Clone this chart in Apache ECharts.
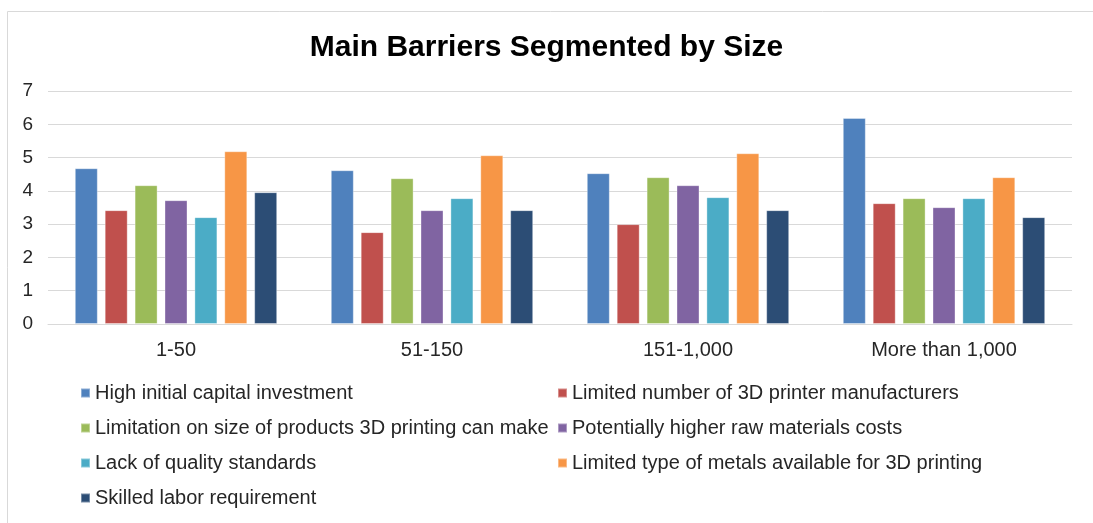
<!DOCTYPE html>
<html>
<head>
<meta charset="utf-8">
<title>Main Barriers Segmented by Size</title>
<script src="https://cdn.jsdelivr.net/npm/echarts@6/dist/echarts.min.js"></script>
<style>
  html, body { margin: 0; padding: 0; background: #fff; }
  #chartBox { width: 1093px; height: 523px; }
</style>
</head>
<body>
<div id="chartBox"></div>
<script>
// categories (company size)
var sizes = ['1-50', '51-150', '151-1,000', 'More than 1,000'];

// one array per barrier
var highCapital   = [4.68, 4.62, 4.53, 6.19];
var fewMakers     = [3.42, 2.76, 3.00, 3.63];
var sizeLimit     = [4.17, 4.38, 4.41, 3.78];
var rawCosts      = [3.72, 3.42, 4.17, 3.51];
var noStandards   = [3.21, 3.78, 3.81, 3.78];
var fewMetals     = [5.19, 5.07, 5.13, 4.41];
var skilledLabor  = [3.96, 3.42, 3.42, 3.21];

var names = [
    'High initial capital investment',
    'Limited number of 3D printer manufacturers',
    'Limitation on size of products 3D printing can make',
    'Potentially higher raw materials costs',
    'Lack of quality standards',
    'Limited type of metals available for 3D printing',
    'Skilled labor requirement'
];
var values = [highCapital, fewMakers, sizeLimit, rawCosts, noStandards, fewMetals, skilledLabor];
var colors = ['#4F81BD', '#C0504D', '#9BBB59', '#8064A2', '#4BACC6', '#F79646', '#2C4D75'];

var chart = echarts.init(document.getElementById('chartBox'));

var series = [];
for (var i = 0; i < names.length; i++) {
    series.push({
        name: names[i],
        type: 'bar',
        data: values[i],
        barWidth: 23,
        barGap: '30%',
        itemStyle: {
            color: colors[i],
            borderColor: 'rgba(255,255,255,0.35)',
            borderWidth: 1
        }
    });
}

var legendText = { fontFamily: 'Liberation Sans', fontSize: 20, color: '#262626', lineHeight: 20 };

var option = {
    animation: false,
    textStyle: { fontFamily: 'Liberation Sans' },
    color: colors,
    title: {
        text: 'Main Barriers Segmented by Size',
        left: 'center',
        top: 28,
        textStyle: { fontFamily: 'Liberation Sans', fontSize: 30, fontWeight: 'bold', color: '#000' }
    },
    graphic: [{
        type: 'rect',
        shape: { x: 7.5, y: 11.5, width: 1200, height: 700 },
        style: { fill: 'none', stroke: '#d9d9d9', lineWidth: 1 },
        silent: true
    }],
    legend: [{
        orient: 'vertical',
        left: 80,
        top: 383,
        padding: 0,
        itemWidth: 9,
        itemHeight: 9,
        itemGap: 15,
        itemTextGap: 6,
        icon: 'rect',
        textStyle: legendText,
        data: [names[0], names[2], names[4], names[6]]
    }, {
        orient: 'vertical',
        left: 557,
        top: 383,
        padding: 0,
        itemWidth: 9,
        itemHeight: 9,
        itemGap: 15,
        itemTextGap: 6,
        icon: 'rect',
        textStyle: legendText,
        data: [names[1], names[3], names[5]]
    }],
    grid: { left: 48, right: 21, top: 91, bottom: 199, containLabel: false },
    xAxis: {
        type: 'category',
        data: sizes,
        axisLine: { lineStyle: { color: '#d9d9d9' } },
        axisTick: { show: false },
        axisLabel: { fontSize: 20, color: '#262626', margin: 16 }
    },
    yAxis: {
        type: 'value',
        min: 0,
        max: 7,
        interval: 1,
        axisLine: { show: false },
        axisTick: { show: false },
        splitLine: { lineStyle: { color: '#d9d9d9' } },
        axisLabel: { fontSize: 19, color: '#262626', margin: 15 }
    },
    series: series
};

chart.setOption(option);
</script>
</body>
</html>
